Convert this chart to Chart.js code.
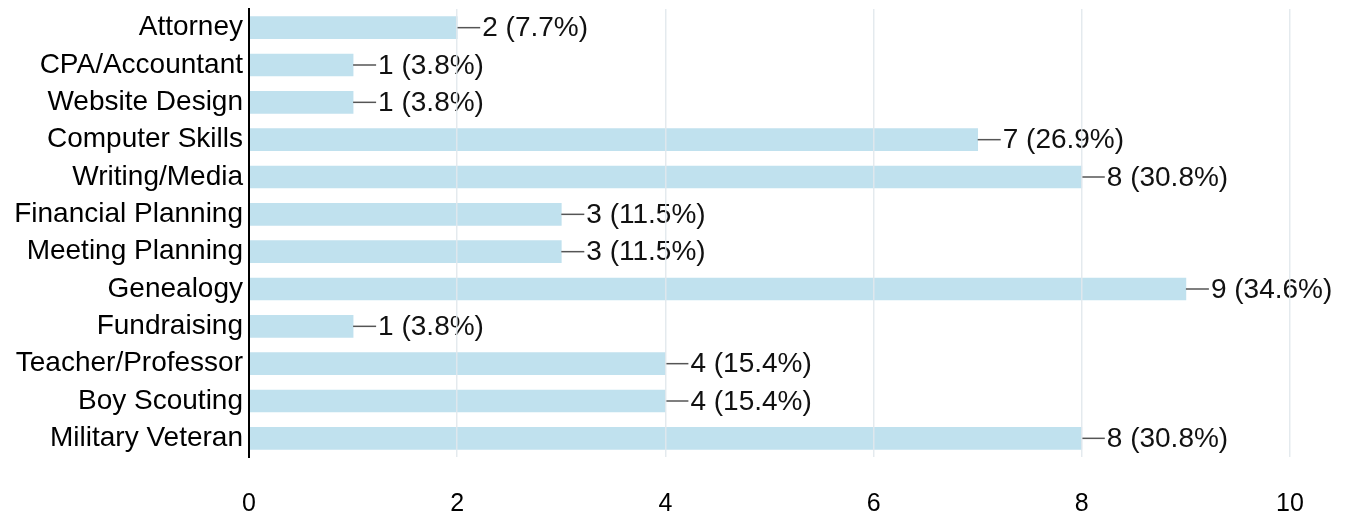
<!DOCTYPE html>
<html><head><meta charset="utf-8">
<script src="https://cdn.jsdelivr.net/npm/chart.js@4.4.1/dist/chart.umd.min.js"></script>
<style>html,body{margin:0;padding:0;background:#fff}#wrap{width:1356px;height:520px}</style>
</head><body><div id="wrap"><canvas id="c" width="1356" height="520"></canvas></div>
<script>
const categories = ["Attorney","CPA/Accountant","Website Design","Computer Skills","Writing/Media","Financial Planning","Meeting Planning","Genealogy","Fundraising","Teacher/Professor","Boy Scouting","Military Veteran"];
const counts = [2,1,1,7,8,3,3,9,1,4,4,8];
const percents = ["7.7%","3.8%","3.8%","26.9%","30.8%","11.5%","11.5%","34.6%","3.8%","15.4%","15.4%","30.8%"];
const xTicks = [0,2,4,6,8,10];

const valueLabels = {
  id:'valueLabels',
  afterDatasetsDraw(chart){
    const ctx = chart.ctx;
    const meta = chart.getDatasetMeta(0);
    ctx.save();
    meta.data.forEach((bar,i)=>{
      const x = bar.x, y = bar.y;
      ctx.strokeStyle = '#555';
      ctx.lineWidth = 1.5;
      ctx.beginPath(); ctx.moveTo(x, y); ctx.lineTo(x+23, y); ctx.stroke();
      ctx.fillStyle = '#111';
      ctx.font = '28px "Liberation Sans", Arial, sans-serif';
      ctx.textAlign = 'left'; ctx.textBaseline = 'middle';
      ctx.fillText(counts[i] + ' (' + percents[i] + ')', x+25, y+1);
    });
    ctx.restore();
  }
};

new Chart(document.getElementById('c'), {
  type:'bar',
  data:{labels:categories, datasets:[{data:counts, backgroundColor:'rgb(192,225,238)', barThickness:22, borderWidth:0}]},
  options:{
    indexAxis:'y', responsive:false, animation:false,
    layout:{padding:{top:9, right:66, bottom:3, left:0}},
    plugins:{legend:{display:false}, tooltip:{enabled:false}},
    scales:{
      x:{min:0,max:10,
        afterBuildTicks(s){ s.ticks = xTicks.map(v=>({value:v})); },
        afterFit(s){ s.height = 60; s.paddingLeft = 0; s.paddingRight = 0; },
        grid:{color:(c)=> (c.tick && c.tick.value===0) ? 'rgba(0,0,0,0)' : 'rgba(225,232,236,0.9)', lineWidth:1.5, drawTicks:false, z:1},
        border:{display:false},
        ticks:{padding:32, color:'#000', font:{size:25, family:'"Liberation Sans Narrow", "Liberation Sans", Arial, sans-serif'}}
      },
      y:{
        afterFit(s){ s.width = 249; s.paddingTop = 0; s.paddingBottom = 0; },
        grid:{display:false, drawTicks:false},
        border:{display:true, color:'#000', width:2, z:2},
        ticks:{autoSkip:false, padding:6, color:'#000', font:{size:28, family:'"Liberation Sans", Arial, sans-serif'}}
      }
    }
  },
  plugins:[valueLabels]
});
</script></body></html>
